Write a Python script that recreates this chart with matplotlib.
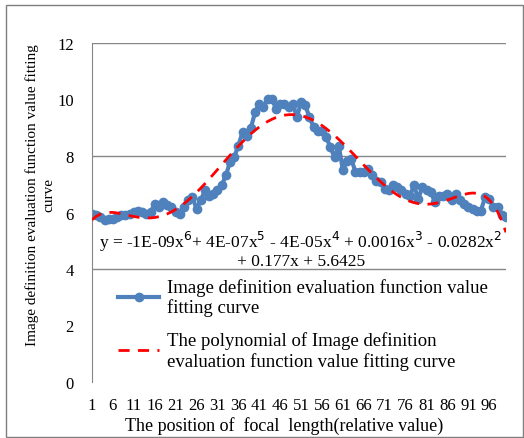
import numpy as np
import matplotlib
matplotlib.use("Agg")
import matplotlib.pyplot as plt
from matplotlib.patches import Rectangle

plt.rcParams['font.family'] = ['Liberation Serif', 'DejaVu Serif']

values = [5.96, 5.90, 5.84, 5.72, 5.78, 5.78, 5.84, 5.90, 5.92, 5.96,
          6.01, 6.07, 6.01, 5.96, 6.01, 6.30, 6.19, 6.37, 6.25, 6.19,
          6.01, 5.96, 6.19, 6.43, 6.54, 6.13, 6.43, 6.78, 6.60, 6.66,
          6.78, 6.96, 7.31, 7.78, 7.96, 8.37, 8.84, 8.72, 9.00, 9.55,
          9.85, 9.73, 10.02, 10.02, 9.67, 9.85, 9.85, 9.73, 9.85, 9.38,
          9.90, 9.79, 9.38, 9.02, 8.90, 8.90, 8.67, 8.31, 7.96, 8.37,
          7.49, 7.84, 7.90, 7.43, 7.43, 7.43, 7.55, 7.31, 7.13, 7.08,
          6.84, 6.78, 6.96, 6.90, 6.78, 6.66, 6.60, 6.96, 6.49, 6.90,
          6.78, 6.72, 6.37, 6.60, 6.60, 6.66, 6.43, 6.66, 6.43, 6.31,
          6.19, 6.13, 6.07, 6.07, 6.54, 6.49, 6.19, 6.19, 5.90, 5.84]
positions = np.arange(1, len(values) + 1)
tick_labels = [str(v) for v in range(1, 97, 5)]
y_ticks = [0, 2, 4, 6, 8, 10, 12]
grid_levels = [4, 8, 12]

series_label = "Image definition evaluation function value\nfitting curve"
poly_label = "The polynomial of Image definition\nevaluation function value fitting curve"
equation = ("y = -1E-09x$^6$+ 4E-07x$^5$ - 4E-05x$^4$ + 0.0016x$^3$ - 0.0282x$^2$\n"
            "+ 0.177x + 5.6425")

coef = np.polyfit(positions, values, 6)
fit = np.polyval(coef, positions)

fig = plt.figure(figsize=(5.24, 4.39), dpi=100)
fig.patches.append(Rectangle((6/524, 1/439), 517/524, 432/439, transform=fig.transFigure,
                             fill=False, edgecolor='#7f7f7f', linewidth=1.0))
ax = fig.add_axes([92/524, 1 - 383/439, (506 - 92)/524, (383 - 44)/439])

for g in grid_levels:
    ax.axhline(g, color='#868686', linewidth=1.0, zorder=0)

blue, = ax.plot(positions, values, color='#4F81BD', linewidth=3.0, marker='o',
                markersize=6, markeredgecolor='#4F81BD', zorder=2)
red, = ax.plot(positions, fit, color='#FF0000', linewidth=2.0, linestyle=(0, (4, 3)), zorder=3)

ax.set_xlim(1, len(values))
ax.set_ylim(0, 12)
ax.set_yticks(y_ticks)
ax.set_yticklabels([str(t) for t in y_ticks], fontsize=12)
ax.set_xticks(list(range(1, 97, 5)))
ax.set_xticklabels(tick_labels, fontsize=12)
ax.tick_params(axis='both', length=0)
ax.tick_params(axis='y', pad=13)
ax.tick_params(axis='x', pad=11)
for s in ['top', 'right', 'bottom']:
    ax.spines[s].set_visible(False)
ax.spines['left'].set_color('#868686')

ax.set_ylabel("Image definition evaluation function value fitting\ncurve", fontsize=11,
              linespacing=1.4)
ax.yaxis.set_label_coords(-0.088, 0.555)
ax.set_xlabel("The position of  focal  length(relative value)", fontsize=13)
ax.xaxis.set_label_coords(0.465, -0.1)

ax.text(0.505, 0.393, equation, transform=ax.transAxes, ha='center', va='center',
        fontsize=12.5, linespacing=0.95)

ax.legend([blue, red], [series_label, poly_label], loc='upper left',
          bbox_to_anchor=(0.045, 0.33), frameon=False, fontsize=13.5, handlelength=2.2,
          handletextpad=0.4, labelspacing=0.8, borderaxespad=0)

fig.savefig("out.png", dpi=100)
